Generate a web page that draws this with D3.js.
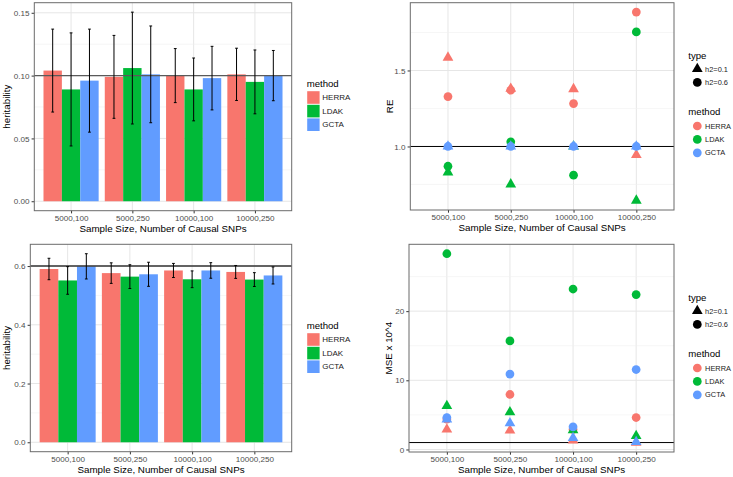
<!DOCTYPE html>
<html><head><meta charset="utf-8">
<script src="https://cdn.jsdelivr.net/npm/d3@7"></script>
<style>
body{margin:0;background:#fff;}
text{font-family:"Liberation Sans",Arial,Helvetica,sans-serif;}
</style></head>
<body>
<svg id="chart" width="733" height="477"></svg>
<script>
// ---------- data ----------
const categories = ["5000,100","5000,250","10000,100","10000,250"];
const methods = ["HERRA","LDAK","GCTA"];
const methodColors = ["#F8766D","#00BA38","#619CFF"];
const typeLabels = ["h2=0.1","h2=0.6"];

// heritability estimates, h2 = 0.1 (top-left)
const h01Mean = {HERRA:[0.104,0.099,0.100,0.101], LDAK:[0.089,0.106,0.089,0.095], GCTA:[0.096,0.101,0.098,0.100]};
const h01Sd   = {HERRA:[0.033,0.033,0.0215,0.0208], LDAK:[0.045,0.0445,0.025,0.0254], GCTA:[0.041,0.0385,0.0253,0.020]};
const h01True = 0.1;
const h01Ticks = [0,0.05,0.10,0.15];
const h01Minor = [0.025,0.075,0.125];

// heritability estimates, h2 = 0.6 (bottom-left)
const h06Mean = {HERRA:[0.590,0.576,0.585,0.580], LDAK:[0.551,0.564,0.555,0.554], GCTA:[0.599,0.572,0.585,0.568]};
const h06Sd   = {HERRA:[0.0365,0.035,0.024,0.022], LDAK:[0.047,0.0405,0.0285,0.0235], GCTA:[0.043,0.041,0.0265,0.029]};
const h06True = 0.6;
const h06Ticks = [0,0.2,0.4,0.6];
const h06Minor = [0.1,0.3,0.5];

// relative efficiency (top-right)
const reTri  = {HERRA:[1.585,1.38,1.378,0.945], LDAK:[0.830,0.751,1.0,0.644], GCTA:[1,1,1,1]};
const reCirc = {HERRA:[1.328,1.37,1.282,1.884], LDAK:[0.870,1.031,0.811,1.754], GCTA:[1,1,1,1]};
const reRef = 1;
const reTicks = [1.0,1.5];
const reMinor = [0.75,1.25,1.75];

// MSE x 10^4 (bottom-right)
const mseTri  = {HERRA:[2.9,2.75,1.3,1.0], LDAK:[6.3,5.4,2.8,1.97], GCTA:[4.35,3.8,1.68,1.1]};
const mseCirc = {HERRA:[4.4,7.95,2.9,4.62], LDAK:[28.3,15.7,23.2,22.4], GCTA:[4.62,10.9,3.27,11.56]};
const mseRef = 1;
const mseTicks = [0,10,20];
const mseMinor = [5,15,25];

// ---------- drawing ----------
const svg = d3.select("#chart");
const color = d3.scaleOrdinal().domain(methods).range(methodColors);
const TICK_FS = 8.1, TITLE_FS = 9.8, LEGT_FS = 9.6, LEG_FS = 8;

function expand(lo, hi){ const r = hi - lo; return [lo - 0.05*r, hi + 0.05*r]; }

function frame(box, y, ticks, minor, fmt, xTitle, yTitle, yTitleX){
  const g = svg.append("g");
  g.append("rect").attr("x",box.l).attr("y",box.t).attr("width",box.r-box.l).attr("height",box.b-box.t).attr("fill","#fff");
  g.selectAll(".mn").data(minor).enter().append("line")
    .attr("x1",box.l).attr("x2",box.r).attr("y1",d=>y(d)).attr("y2",d=>y(d))
    .attr("stroke","#F0F0F0").attr("stroke-width",0.6);
  g.selectAll(".mj").data(ticks).enter().append("line")
    .attr("x1",box.l).attr("x2",box.r).attr("y1",d=>y(d)).attr("y2",d=>y(d))
    .attr("stroke","#E6E6E6").attr("stroke-width",1);
  const ax = g.append("g").attr("transform",`translate(${box.l},0)`)
    .call(d3.axisLeft(y).tickValues(ticks).tickFormat(d3.format(fmt)).tickSize(2.7).tickPadding(2));
  ax.select(".domain").remove();
  ax.selectAll("line").attr("stroke","#333");
  ax.selectAll("text").attr("fill","#4D4D4D").style("font-size",TICK_FS+"px").style("font-family","Liberation Sans, Arial, sans-serif");
  g.append("text").attr("transform",`translate(${yTitleX},${(box.t+box.b)/2}) rotate(-90)`)
    .attr("text-anchor","middle").attr("dominant-baseline","central")
    .style("font-size",TITLE_FS+"px").attr("fill","#000").text(yTitle);
  g.append("text").attr("x",(box.l+box.r)/2).attr("y",box.b+17.5)
    .attr("text-anchor","middle").attr("dominant-baseline","central")
    .style("font-size",TITLE_FS+"px").attr("fill","#000").text(xTitle);
  return g;
}

function xAxis(g, box, x){
  g.insert("g",":nth-child(2)").selectAll("line").data(categories).enter().append("line")
    .attr("x1",d=>x(d)).attr("x2",d=>x(d)).attr("y1",box.t).attr("y2",box.b)
    .attr("stroke","#E6E6E6").attr("stroke-width",1);
  const ax = g.append("g").attr("transform",`translate(0,${box.b})`)
    .call(d3.axisBottom(x).tickSize(2.7).tickPadding(2));
  ax.select(".domain").remove();
  ax.selectAll("line").attr("stroke","#333");
  ax.selectAll("text").attr("fill","#4D4D4D").style("font-size",TICK_FS+"px").style("font-family","Liberation Sans, Arial, sans-serif");
}

function border(g, box){
  g.append("rect").attr("x",box.l).attr("y",box.t).attr("width",box.r-box.l).attr("height",box.b-box.t)
    .attr("fill","none").attr("stroke","#6b6b6b").attr("stroke-width",1);
}

function barPanel(box, mean, sd, ref, ticks, minor, fmt, hlineColor, legendTop){
  let hi = 0;
  methods.forEach(m=>mean[m].forEach((v,i)=>{hi = Math.max(hi, v+sd[m][i]);}));
  const y = d3.scaleLinear().domain(expand(0,hi)).range([box.b, box.t]);
  const x = d3.scaleBand().domain(categories).range([box.l, box.r]).paddingInner(0.1).paddingOuter(0.15);
  const xp = d3.scalePoint().domain(categories).range([box.l, box.r]).padding(0.6);
  const xm = d3.scaleBand().domain(methods).range([0, x.bandwidth()]);
  const g = frame(box, y, ticks, minor, fmt, "Sample Size, Number of Causal SNPs", "heritability", 6);
  xAxis(g, box, xp);
  const rows = [];
  categories.forEach((c,i)=>methods.forEach(m=>rows.push({c, m, v:mean[m][i], s:sd[m][i]})));
  g.append("g").selectAll("rect").data(rows).enter().append("rect")
    .attr("x",d=>x(d.c)+xm(d.m)).attr("width",xm.bandwidth())
    .attr("y",d=>y(d.v)).attr("height",d=>y(0)-y(d.v))
    .attr("fill",d=>color(d.m));
  g.append("line").attr("x1",box.l).attr("x2",box.r).attr("y1",y(ref)).attr("y2",y(ref))
    .attr("stroke",hlineColor).attr("stroke-width",1.4);
  const eb = g.append("g").selectAll("g").data(rows).enter().append("g")
    .attr("transform",d=>`translate(${x(d.c)+xm(d.m)+xm.bandwidth()/2},0)`);
  eb.append("line").attr("x1",0).attr("x2",0).attr("y1",d=>y(d.v+d.s)).attr("y2",d=>y(d.v-d.s)).attr("stroke","#000").attr("stroke-width",1);
  eb.append("line").attr("x1",-1.4).attr("x2",1.4).attr("y1",d=>y(d.v+d.s)).attr("y2",d=>y(d.v+d.s)).attr("stroke","#000").attr("stroke-width",1);
  eb.append("line").attr("x1",-1.4).attr("x2",1.4).attr("y1",d=>y(d.v-d.s)).attr("y2",d=>y(d.v-d.s)).attr("stroke","#000").attr("stroke-width",1);
  border(g, box);
  const lg = svg.append("g").attr("transform",`translate(306.7,${legendTop})`);
  lg.append("text").attr("x",0).attr("y",0).attr("dominant-baseline","central").style("font-size",LEGT_FS+"px").text("method");
  methods.forEach((m,i)=>{
    lg.append("rect").attr("x",0.5).attr("y",8.2+i*13.6).attr("width",12.4).attr("height",12.6).attr("fill",color(m));
    lg.append("text").attr("x",15.6).attr("y",14.5+i*13.6).attr("dominant-baseline","central").style("font-size",LEG_FS+"px").attr("fill","#1a1a1a").text(m);
  });
}

function pointPanel(box, tri, circ, ref, ticks, minor, fmt, yTitle, legendTop){
  let lo = ref, hi = ref;
  methods.forEach(m=>{tri[m].concat(circ[m]).forEach(v=>{lo=Math.min(lo,v);hi=Math.max(hi,v);});});
  const y = d3.scaleLinear().domain(expand(lo,hi)).range([box.b, box.t]);
  const x = d3.scalePoint().domain(categories).range([box.l, box.r]).padding(0.6);
  const g = frame(box, y, ticks, minor, fmt, "Sample Size, Number of Causal SNPs", yTitle, box.l-21);
  xAxis(g, box, x);
  g.append("line").attr("x1",box.l).attr("x2",box.r).attr("y1",y(ref)).attr("y2",y(ref))
    .attr("stroke","#000").attr("stroke-width",1);
  const rows = [];
  methods.forEach(m=>{
    categories.forEach((c,i)=>rows.push({c,m,v:tri[m][i],shape:d3.symbolTriangle}));
    categories.forEach((c,i)=>rows.push({c,m,v:circ[m][i],shape:d3.symbolCircle}));
  });
  g.append("g").selectAll("path").data(rows).enter().append("path")
    .attr("transform",d=>`translate(${x(d.c)},${y(d.v)})`)
    .attr("d",d=>d3.symbol().type(d.shape).size(d.shape===d3.symbolCircle?60:50)())
    .attr("fill",d=>color(d.m));
  border(g, box);
  const lg = svg.append("g").attr("transform",`translate(688.3,${legendTop})`);
  lg.append("text").attr("x",0).attr("y",0).attr("dominant-baseline","central").style("font-size",LEGT_FS+"px").text("type");
  [d3.symbolTriangle,d3.symbolCircle].forEach((s,i)=>{
    lg.append("path").attr("transform",`translate(9,${14+i*13.4})`).attr("d",d3.symbol().type(s).size(s===d3.symbolCircle?60:50)()).attr("fill","#000");
    lg.append("text").attr("x",16.8).attr("y",14+i*13.4).attr("dominant-baseline","central").style("font-size",(LEG_FS-0.6)+"px").attr("fill","#1a1a1a").text(typeLabels[i]);
  });
  lg.append("text").attr("x",0).attr("y",56.7).attr("dominant-baseline","central").style("font-size",LEGT_FS+"px").text("method");
  methods.forEach((m,i)=>{
    lg.append("path").attr("transform",`translate(9,${71+i*13.4})`).attr("d",d3.symbol().type(d3.symbolCircle).size(60)()).attr("fill",color(m));
    lg.append("text").attr("x",16.8).attr("y",71+i*13.4).attr("dominant-baseline","central").style("font-size",(LEG_FS-0.6)+"px").attr("fill","#1a1a1a").text(m);
  });
}

barPanel({l:34.3,r:291.7,t:2.7,b:210.7}, h01Mean, h01Sd, h01True, h01Ticks, h01Minor, ".2f", "#5a5a5a", 83);
barPanel({l:30.3,r:291.7,t:244.3,b:451.7}, h06Mean, h06Sd, h06True, h06Ticks, h06Minor, ".1f", "#333", 325);
pointPanel({l:410.3,r:674,t:2.7,b:210}, reTri, reCirc, reRef, reTicks, reMinor, ".1f", "RE", 55);
pointPanel({l:409,r:674,t:244.3,b:452}, mseTri, mseCirc, mseRef, mseTicks, mseMinor, "d", "MSE x 10^4", 297);
</script>
</body></html>
